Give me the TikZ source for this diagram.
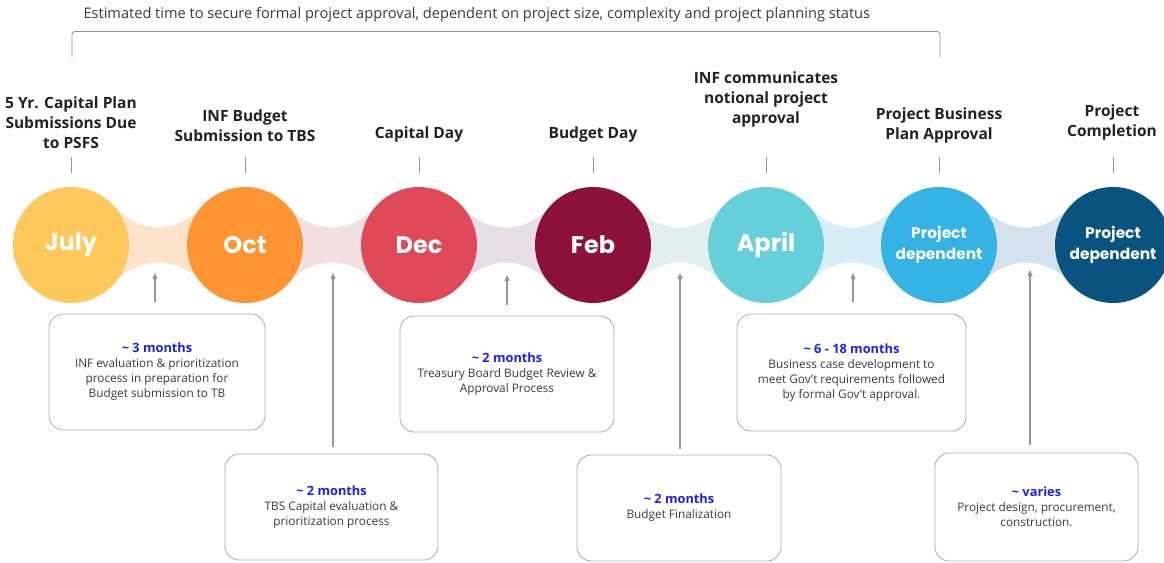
\documentclass[tikz,border=0pt]{standalone}
\usepackage{fontspec}
\setmainfont{Open Sans}
\newfontfamily\monthfont{Poppins}
\usetikzlibrary{arrows.meta}
\definecolor{julyc}{RGB}{254,200,92}
\definecolor{octc}{RGB}{255,148,50}
\definecolor{decc}{RGB}{224,74,88}
\definecolor{febc}{RGB}{140,16,60}
\definecolor{aprc}{RGB}{102,208,218}
\definecolor{pdonec}{RGB}{53,179,228}
\definecolor{pdtwoc}{RGB}{8,83,128}
\definecolor{bandA}{RGB}{254,227,204}
\definecolor{bandB}{RGB}{242,224,226}
\definecolor{bandC}{RGB}{232,220,232}
\definecolor{bandD}{RGB}{226,238,240}
\definecolor{bandE}{RGB}{216,238,246}
\definecolor{bandF}{RGB}{211,226,236}
\definecolor{durblue}{RGB}{30,30,240}
\definecolor{labgray}{RGB}{34,34,34}
\definecolor{bodygray}{RGB}{58,58,58}
\definecolor{boxgray}{RGB}{175,175,175}
\definecolor{tickgray}{RGB}{150,150,150}
\newcommand{\duration}[1]{{\color{durblue}\bfseries\fontsize{12.8}{15}\selectfont\textasciitilde{} #1}\\}

\begin{document}
\begin{tikzpicture}[x=1pt,y=-1pt,
  month/.style={circle,minimum size=116pt,inner sep=0pt,text=white,font=\monthfont\bfseries\fontsize{24}{26}\selectfont},
  monthsmall/.style={month,align=center,font=\monthfont\bfseries\fontsize{15.4}{21}\selectfont},
  milestone/.style={align=center,text=labgray,font=\bfseries\fontsize{15.5}{20}\selectfont},
  phase/.style={draw=boxgray,line width=0.9pt,rounded corners=14pt,align=center,text=bodygray,font=\fontsize{11.8}{15}\selectfont},
  tick/.style={draw=tickgray,line width=0.9pt},
  pointer/.style={draw=tickgray,line width=1.1pt,-{Triangle[length=6pt,width=5pt]}}]
\useasboundingbox (0,0) rectangle (1164,562);
\node[anchor=west,text=bodygray,font=\fontsize{14.6}{16}\selectfont] (title) at (80,15) {Estimated time to secure formal project approval, dependent on project size, complexity and project planning status};
\draw[tick,rounded corners=3pt] (72,57) -- (72,31.5) -- (940,31.5) -- (940,57);
\foreach \xa/\xb/\col in {71/245/bandA,245/419/bandB,419/593/bandC,593/766/bandD,766/939/bandE,939/1113/bandF} {
  \pgfmathsetmacro\xm{(\xa+\xb)/2}
  \fill[\col] (\xa,207.7) -- (\xa+44.4,207.7) .. controls (\xa+54,219.5) and (\xm-16,227.5) .. (\xm,227.5)
    .. controls (\xm+16,227.5) and (\xb-54,219.5) .. (\xb-44.4,207.7) -- (\xb,207.7) -- (\xb,282.3)
    -- (\xb-44.4,282.3) .. controls (\xb-54,270.5) and (\xm+16,262.5) .. (\xm,262.5)
    .. controls (\xm-16,262.5) and (\xa+54,270.5) .. (\xa+44.4,282.3) -- (\xa,282.3) -- cycle;
}
\node[month,fill=julyc] (jul) at (71,245) {July};
\node[month,fill=octc] (oct) at (245,245) {Oct};
\node[month,fill=decc] (dec) at (419,245) {Dec};
\node[month,fill=febc] (feb) at (593,245) {Feb};
\node[month,fill=aprc] (apr) at (766,245) {April};
\node[monthsmall,fill=pdonec] (pdone) at (939,245) {Project\\dependent};
\node[monthsmall,fill=pdtwoc] (pdtwo) at (1113,245) {Project\\dependent};
\node[milestone] (labjul) at (71,123) {5 Yr. Capital Plan\\Submissions Due\\to PSFS};
\node[milestone] (laboct) at (245,126) {INF Budget\\Submission to TBS};
\node[milestone] (labdec) at (419,134) {Capital Day};
\node[milestone] (labfeb) at (593,134) {Budget Day};
\node[milestone] (labapr) at (766,99.5) {INF communicates\\notional project\\approval};
\node[milestone] (labpdone) at (939,125) {Project Business\\Plan Approval};
\node[milestone] (labpdtwo) at (1112,122) {Project\\Completion};
\foreach \c in {jul,oct,dec,feb,apr,pdone,pdtwo}
  \draw[tick] ([yshift=14pt]\c.north) -- ([yshift=30pt]\c.north);
\node[phase,minimum width=216pt,minimum height=116pt] (b1) at (157,372) {\duration{3 months}INF evaluation \& prioritization\\process in preparation for\\Budget submission to TB};
\node[phase,minimum width=213pt,minimum height=106pt] (b2) at (331.5,507) {\duration{2 months}TBS Capital evaluation \&\\prioritization process};
\node[phase,minimum width=214pt,minimum height=116pt] (b3) at (507,374) {\duration{2 months}Treasury Board Budget Review \&\\Approval Process};
\node[phase,minimum width=204pt,minimum height=106pt] (b4) at (679,508) {\duration{2 months}Budget Finalization};
\node[phase,minimum width=229pt,minimum height=117pt] (b5) at (851.5,372.5) {\duration{6 - 18 months}Business case development to\\meet Gov't requirements followed\\by formal Gov't approval.};
\node[phase,minimum width=203pt,minimum height=108pt] (b6) at (1036.5,507) {\duration{varies}Project design, procurement,\\construction.};
\coordinate (p1) at (155,273);
\coordinate (p2) at (333,273);
\coordinate (p3) at (507,275);
\coordinate (p4) at (680,273);
\coordinate (p5) at (853,273);
\coordinate (p6) at (1030,270);
\draw[pointer,shorten <=12pt] (p1 |- b1.north) -- (p1);
\draw[pointer,shorten <=7pt] (p2 |- b2.north) -- (p2);
\draw[pointer,shorten <=11pt] (p3 |- b3.north) -- (p3);
\draw[pointer,shorten <=6pt] (p4 |- b4.north) -- (p4);
\draw[pointer,shorten <=12pt] (p5 |- b5.north) -- (p5);
\draw[pointer,shorten <=8pt] (p6 |- b6.north) -- (p6);
\end{tikzpicture}
\end{document}
